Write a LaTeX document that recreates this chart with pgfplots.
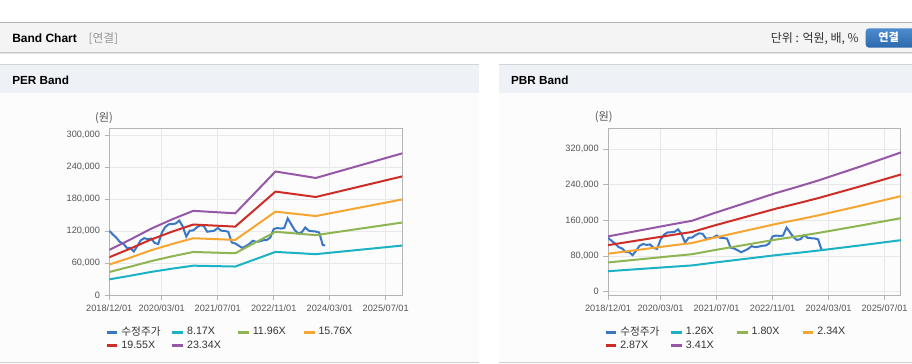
\documentclass[border=0pt]{standalone}
\usepackage{pgfplots}
\usepackage{pgfplotstable}
\pgfplotsset{compat=1.18}
\usepackage{fontspec}
\setmainfont{Liberation Sans}
\newfontfamily\kr{Noto Sans CJK KR}

\definecolor{cprice}{RGB}{58,118,195}
\definecolor{ccyan}{RGB}{28,178,198}
\definecolor{cgreen}{RGB}{142,181,82}
\definecolor{corange}{RGB}{246,166,48}
\definecolor{cred}{RGB}{206,44,38}
\definecolor{cpurple}{RGB}{150,88,166}
\definecolor{cgrid}{RGB}{232,232,232}
\definecolor{caxis}{RGB}{180,180,180}
\definecolor{clabel}{RGB}{85,85,85}
\definecolor{ctext}{RGB}{51,51,51}
\definecolor{chead}{RGB}{244,244,244}
\definecolor{cpanelhead}{RGB}{238,242,247}
\definecolor{cbody}{RGB}{252,252,252}

\pgfplotstableread{
m p
0 121000
1 114000
2 108000
3 100000
4 97000
5 89000
6 88500
7 82000
8 92000
9 103000
10 107000
11 105000
12 106000
13 98000
14 96000
15 117000
16 128000
17 133000
18 133500
19 134500
20 140000
21 129000
22 110000
23 121000
24 121500
25 127000
26 131000
27 130000
28 119000
29 120000
30 121000
31 126000
32 121000
33 120500
34 119000
35 99000
36 97000
37 93000
38 88500
39 92000
40 96000
41 102000
42 100000
43 101000
44 103000
45 103500
46 108000
47 124000
48 126000
49 125000
50 126000
51 144000
52 133000
53 122000
54 116000
55 118000
56 127000
57 121000
58 120000
59 119500
60 117500
61 94000
61.7 93500
}\pricetable

\pgfplotstableread{
m c1 c2 c3 c4 c5
0 29739 43534 57366 71162 84958
6 36520 53461 70447 87389 104330
12 43710 63986 84316 104593 124869
18 49837 72956 96136 119255 142374
24 55393 81089 106853 132549 158245
30 54576 79893 105277 130594 155911
36 53759 78697 103701 128639 153577
42 68056 99627 131281 162852 194422
47.5 81210 118882 156654 194327 232000
54 78841 115414 152084 188658 225231
59 76961 112663 148459 184161 219863
66 81537 119361 157285 195109 232933
72 85458 125102 164850 204493 244136
78 89380 130842 172414 213877 255340
84 93301 136583 179979 223261 266543
}\pertable

\pgfplotstableread{
m c1 c2 c3 c4 c5
0 45864 65520 85176 104468 124124
6 49140 70200 91260 111930 132990
12 52416 74880 97344 119392 141856
18 55692 79560 103428 126854 150722
24 58842 84060 109278 134029 159247
30 64890 92700 120510 147805 175615
36 70560 100800 131040 160720 190960
42 76230 108900 141570 173635 206305
48 81900 117000 152100 186550 221650
54 86940 124200 161460 198030 235290
60 92232 131760 171288 210084 249612
66 98028 140040 182052 223286 265298
72 103824 148320 192816 236488 280984
78 109872 156960 204048 250264 297352
84 115920 165600 215280 264040 313720
}\pbrtable

\pgfplotsset{bandaxis/.style={
  scale only axis, width=219.75pt, height=125.25pt, anchor=south west,
  xmin=0, xmax=83.7,
  xtick={0,15,31,47,63,79},
  xticklabels={2018/12/01,2020/03/01,2021/07/01,2022/11/01,2024/03/01,2025/07/01},
  scaled y ticks=false,
  grid=major, major grid style={cgrid, line width=0.75pt},
  axis line style={caxis, line width=0.75pt},
  tick style={caxis, line width=0.75pt},
  tick align=outside, tick pos=left, major tick length=3.5pt,
  ticklabel style={font=\fontsize{6.9}{8}\selectfont, text=clabel},
  legend columns=4,
  legend cell align=left,
  legend style={draw=none, fill=none, inner sep=0pt, at={(-0.014,-0.172)}, anchor=north west,
    font=\fontsize{8}{9.6}\selectfont, text=ctext,
    /tikz/every even column/.append style={column sep=0pt},
    row sep=-1.8pt},
  legend image code/.code={\draw[line width=2pt,#1] (0pt,0pt) -- (8pt,0pt);},
  every axis plot/.append style={line width=1.5pt, mark=none},
}}

\begin{document}
\begin{tikzpicture}
\begin{scope}[x=0.75pt,y=-0.75pt]
  \useasboundingbox (0,0) rectangle (912,364);
  \fill[white] (0,0) rectangle (912,364);
  % top header
  \fill[chead] (0,22.5) rectangle (912,52.5);
  \draw[line width=0.75pt, color={rgb,255:red,180;green,180;blue,180}] (0,22.5) -- (912,22.5);
  \draw[line width=0.75pt, color={rgb,255:red,200;green,200;blue,200}] (0,53) -- (912,53);
  \draw[line width=0.75pt, color={rgb,255:red,228;green,228;blue,228}] (0,54) -- (912,54);
  \node[anchor=base west, inner sep=0pt, font=\bfseries\fontsize{9}{10}\selectfont, text=black] at (12,42.5) {Band Chart};
  \node[anchor=base west, inner sep=0pt, font=\kr\fontsize{8.8}{10}\selectfont, text={rgb,255:red,150;green,150;blue,150}] at (88.3,42.5) {[연결]};
  \node[anchor=base east, inner sep=0pt, font=\kr\fontsize{9}{10}\selectfont, text=ctext] at (859.3,43) {단위 : 억원, 배, \%};
  \shade[top color={rgb,255:red,76;green,140;blue,207}, bottom color={rgb,255:red,44;green,104;blue,172}, rounded corners=2.5pt] (866,28.3) rectangle (918,47.7);
  \node[anchor=base, inner sep=0pt, font=\kr\bfseries\fontsize{8.4}{10}\selectfont, text=white] at (889,42) {연결};
  % panels
  \foreach \xa/\xb in {0/479, 499/912} {
    \fill[cbody] (\xa,93) rectangle (\xb,362);
    \fill[cpanelhead] (\xa,64.5) rectangle (\xb,93);
    \draw[line width=0.75pt, color={rgb,255:red,212;green,212;blue,212}] (\xa,64.5) -- (\xb,64.5);
    \draw[line width=0.75pt, color={rgb,255:red,208;green,208;blue,208}] (\xa,362.5) -- (\xb,362.5);
  }
  \node[anchor=base west, inner sep=0pt, font=\bfseries\fontsize{8.8}{10}\selectfont, text=black] at (12,84.7) {PER Band};
  \node[anchor=base west, inner sep=0pt, font=\bfseries\fontsize{8.8}{10}\selectfont, text=black] at (511,84.7) {PBR Band};
  \node[inner sep=0pt, font=\kr\fontsize{8.4}{10}\selectfont, text=clabel] at (104,117.7) {(원)};
  \node[inner sep=0pt, font=\kr\fontsize{8.4}{10}\selectfont, text=clabel] at (604,117.2) {(원)};
\end{scope}

% PER band
\begin{axis}[bandaxis, at={(81.975pt,-221.475pt)},
  ymin=0, ymax=313125,
  ytick={0,60000,120000,180000,240000,300000},
  yticklabels={0,{60,000},{120,000},{180,000},{240,000},{300,000}}]
  \addplot[cprice] table[x=m,y=p] {\pricetable};
  \addlegendentry{\makebox[35.3pt][l]{\kr 수정주가}}
  \addplot[ccyan] table[x=m,y=c1] {\pertable};
  \addlegendentry{\makebox[35.3pt][l]{8.17X}}
  \addplot[cgreen] table[x=m,y=c2] {\pertable};
  \addlegendentry{\makebox[35.3pt][l]{11.96X}}
  \addplot[corange] table[x=m,y=c3] {\pertable};
  \addlegendentry{\makebox[35.3pt][l]{15.76X}}
  \addplot[cred] table[x=m,y=c4] {\pertable};
  \addlegendentry{\makebox[35.3pt][l]{19.55X}}
  \addplot[cpurple] table[x=m,y=c5] {\pertable};
  \addlegendentry{\makebox[35.3pt][l]{23.34X}}
\end{axis}

% PBR band
\begin{axis}[bandaxis, at={(456.225pt,-221.475pt)},
  ymin=-8100, ymax=367200,
  ytick={0,80000,160000,240000,320000},
  yticklabels={0,{80,000},{160,000},{240,000},{320,000}}]
  \addplot[cprice] table[x=m,y=p] {\pricetable};
  \addlegendentry{\makebox[35.3pt][l]{\kr 수정주가}}
  \addplot[ccyan] table[x=m,y=c1] {\pbrtable};
  \addlegendentry{\makebox[35.3pt][l]{1.26X}}
  \addplot[cgreen] table[x=m,y=c2] {\pbrtable};
  \addlegendentry{\makebox[35.3pt][l]{1.80X}}
  \addplot[corange] table[x=m,y=c3] {\pbrtable};
  \addlegendentry{\makebox[35.3pt][l]{2.34X}}
  \addplot[cred] table[x=m,y=c4] {\pbrtable};
  \addlegendentry{\makebox[35.3pt][l]{2.87X}}
  \addplot[cpurple] table[x=m,y=c5] {\pbrtable};
  \addlegendentry{\makebox[35.3pt][l]{3.41X}}
\end{axis}
\end{tikzpicture}
\end{document}
